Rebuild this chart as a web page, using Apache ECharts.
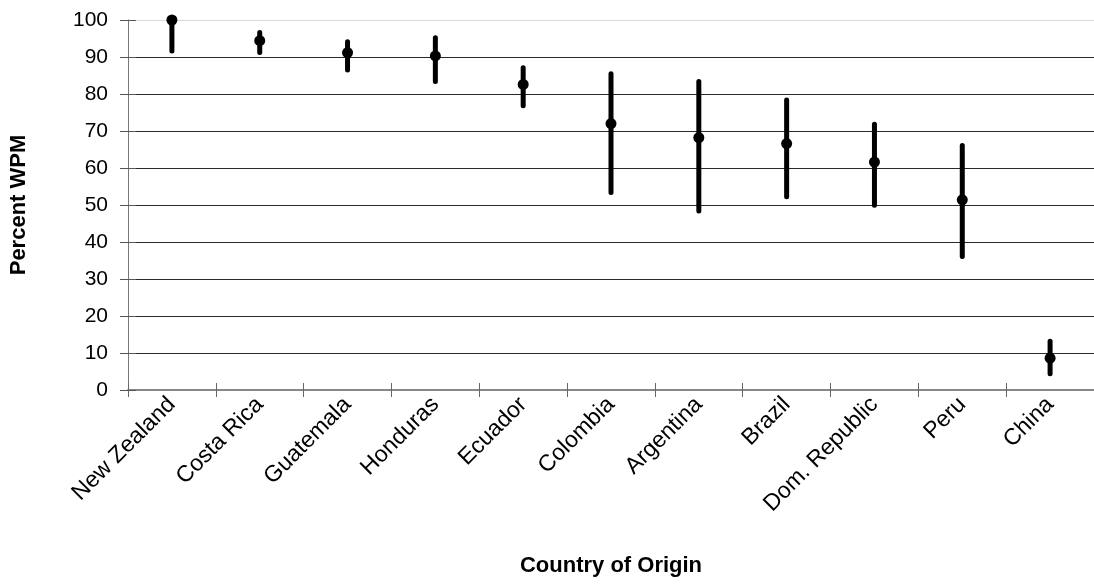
<!DOCTYPE html>
<html>
<head>
<meta charset="utf-8">
<script src="https://cdn.jsdelivr.net/npm/echarts@6/dist/echarts.min.js"></script>
<style>
html,body{margin:0;padding:0;background:#fff;}
#chart{width:1094px;height:584px;}
</style>
</head>
<body>
<div id="chart"></div>
<script>
const categories = ['New Zealand','Costa Rica','Guatemala','Honduras','Ecuador','Colombia','Argentina','Brazil','Dom. Republic','Peru','China'];
const means = [100, 94.4, 91.2, 90.3, 82.6, 72.0, 68.2, 66.6, 61.6, 51.4, 8.6];
const upper = [100, 96.6, 94.1, 95.2, 87.1, 85.5, 83.4, 78.4, 71.8, 66.1, 13.2];
const lower = [91.6, 91.2, 86.5, 83.4, 76.8, 53.4, 48.4, 52.2, 49.9, 36.1, 4.4];
const yTicks = [0,10,20,30,40,50,60,70,80,90,100];

const FONT = 'Liberation Sans, Arial, sans-serif';
const errData = categories.map((c, i) => [i, lower[i], upper[i]]);
const gridColors = yTicks.map(v => v === 100 ? '#d9d9d9' : '#2a2a2a');

const chart = echarts.init(document.getElementById('chart'), null, {renderer: 'canvas'});
chart.setOption({
  animation: false,
  backgroundColor: '#fff',
  grid: {left: 128, top: 20, width: 974, height: 370, containLabel: false},
  xAxis: [{
    type: 'category',
    data: categories,
    boundaryGap: true,
    name: 'Country of Origin',
    nameLocation: 'middle',
    nameGap: 165,
    nameTextStyle: {fontFamily: FONT, fontWeight: 'bold', fontSize: 22, color: '#000'},
    axisLine: {show: true, lineStyle: {color: '#888', width: 2}},
    axisTick: {show: true, interval: 0, alignWithLabel: false, inside: false, length: 7, lineStyle: {color: '#666', width: 1}},
    axisLabel: {rotate: 45, interval: 0, fontFamily: FONT, fontSize: 23, color: '#000', margin: 11},
    splitLine: {show: false}
  }, {
    type: 'category',
    data: categories,
    position: 'bottom',
    boundaryGap: true,
    axisLine: {show: false},
    axisTick: {show: true, interval: 0, inside: true, length: 7, lineStyle: {color: '#666', width: 1}},
    axisLabel: {show: false, interval: 0},
    splitLine: {show: false}
  }],
  yAxis: [{
    type: 'value',
    min: 0, max: 100, interval: 10,
    name: 'Percent WPM',
    nameLocation: 'middle',
    nameGap: 98,
    nameRotate: 90,
    nameTextStyle: {fontFamily: FONT, fontWeight: 'bold', fontSize: 22, color: '#000'},
    axisLine: {show: true, lineStyle: {color: '#777', width: 1}},
    axisTick: {show: true, inside: false, length: 8, lineStyle: {color: '#555', width: 1}},
    axisLabel: {fontFamily: FONT, fontSize: 21, color: '#000', margin: 20},
    splitLine: {show: true, lineStyle: {color: gridColors, width: 1}}
  }, {
    type: 'value',
    min: 0, max: 100, interval: 10,
    position: 'left',
    axisLine: {show: false},
    axisTick: {show: true, inside: true, length: 8, lineStyle: {color: '#555', width: 1}},
    axisLabel: {show: false},
    splitLine: {show: false}
  }],
  series: [{
    type: 'custom',
    xAxisIndex: 0,
    yAxisIndex: 0,
    data: errData,
    renderItem: function (params, api) {
      const x = api.value(0);
      const lo = api.coord([x, api.value(1)]);
      const hi = api.coord([x, api.value(2)]);
      return {
        type: 'line',
        shape: {x1: lo[0], y1: lo[1], x2: hi[0], y2: hi[1]},
        style: {stroke: '#000', lineWidth: 5, lineCap: 'round'}
      };
    },
    z: 3
  }, {
    type: 'scatter',
    xAxisIndex: 0,
    yAxisIndex: 0,
    data: means,
    symbol: 'circle',
    symbolSize: 11,
    itemStyle: {color: '#000', opacity: 1},
    z: 4
  }]
});
</script>
</body>
</html>
